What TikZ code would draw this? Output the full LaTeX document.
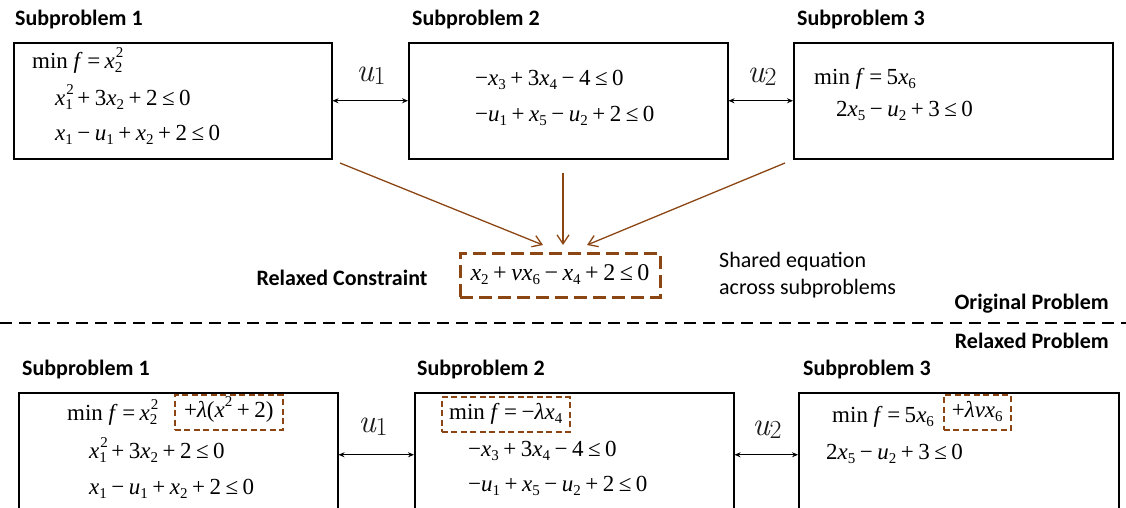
\documentclass[tikz,border=0pt]{standalone}
\usepackage[no-math]{fontspec}
\setmainfont{Carlito}
\newfontfamily\lmfont{Latin Modern Roman}
\newfontfamily\tnr{Liberation Serif}
\usetikzlibrary{arrows.meta,calc}
\definecolor{brn}{RGB}{140,70,20}
\newcommand\sbs[1]{\raisebox{-4pt}{\fontsize{15}{15}\selectfont #1}}
\newcommand\sps[1]{\raisebox{11pt}{\fontsize{15}{15}\selectfont #1}}
\newcommand\xs[2]{\textit{#1}\sbs{#2}}
\newcommand\xss[3]{\textit{#1}\rlap{\kern1pt\sps{#3}}\sbs{#2}}
\newcommand\op[1]{\kern4.5pt#1\kern4.5pt}
\newcommand\ulab[2]{\itshape #1\raisebox{-3pt}{\upshape\fontsize{26}{26}\selectfont #2}}
\begin{document}
\begin{tikzpicture}[x=1pt,y=-1pt,
  lbl/.style={font=\bfseries\fontsize{22}{24}\selectfont, anchor=west, inner sep=0},
  txt/.style={font=\fontsize{22}{27}\selectfont, anchor=north west, inner sep=0, align=left},
  eq/.style={font=\tnr\fontsize{23}{25}\selectfont, anchor=base west, inner sep=0},
  box/.style={draw, line width=1.5pt, inner sep=0, anchor=north west},
  dbox/.style={draw=brn, line width=1.5pt, dash pattern=on 6pt off 3.5pt, anchor=west,
    font=\tnr\fontsize{23}{25}\selectfont, inner xsep=3pt, inner ysep=0pt, minimum height=35pt,
    text height=14pt, text depth=5pt},
  rcbox/.style={draw=brn, line width=3pt, dash pattern=on 13pt off 6pt,
    font=\tnr\fontsize{24}{26}\selectfont, minimum width=200pt, minimum height=44pt, inner sep=0},
  ulbl/.style={font=\lmfont\fontsize{33}{33}\selectfont, text=black!90, inner sep=0},
  dar/.style={{Stealth[length=6pt,width=5pt]}-{Stealth[length=6pt,width=5pt]}, line width=1.2pt},
  bar/.style={-{Straight Barb[length=9pt,width=12pt]}, draw=brn, line width=1.3pt}]
\useasboundingbox (0,0) rectangle (1126,507);
\clip (0,0) rectangle (1126,507);

% ---------- Original problem ----------
\node[lbl] (L1) at (15,20) {Subproblem 1};
\node[lbl] (L2) at (412,20) {Subproblem 2};
\node[lbl] (L3) at (797,20) {Subproblem 3};

\node[box, minimum width=318pt, minimum height=116pt] (T1) at (13,42) {};
\node[box, minimum width=319pt, minimum height=116pt] (T2) at (408,42) {};
\node[box, minimum width=319pt, minimum height=116pt] (T3) at (793,42) {};

\node[eq] (t1a) at (32,68) {min \textit{f}\op{=}\xss{x}{2}{2}};
\node[eq] (t1b) at (55,105) {\xss{x}{1}{2}\op{+}3\xs{x}{2}\op{+}2\op{≤}0};
\node[eq] (t1c) at (55,140) {\xs{x}{1}\op{−}\xs{u}{1}\op{+}\xs{x}{2}\op{+}2\op{≤}0};

\node[eq] (t2a) at (475,85) {−\xs{x}{3}\op{+}3\xs{x}{4}\op{−}4\op{≤}0};
\node[eq] (t2b) at (475,121) {−\xs{u}{1}\op{+}\xs{x}{5}\op{−}\xs{u}{2}\op{+}2\op{≤}0};

\node[eq] (t3a) at (814,84) {min \textit{f}\op{=}5\xs{x}{6}};
\node[eq] (t3b) at (836,116) {2\xs{x}{5}\op{−}\xs{u}{2}\op{+}3\op{≤}0};

\draw[dar] (T1.east) -- (T2.west);
\draw[dar] (T2.east) -- (T3.west);
\node[ulbl] (u1) at (371,76) {\ulab{u}{1}};
\node[ulbl] (u2) at (762,77) {\ulab{u}{2}};

\node[rcbox] (RC) at (560,275) {\xs{x}{2}\op{+}\textit{vx}\sbs{6}\op{−}\xs{x}{4}\op{+}2\op{≤}0};
\coordinate (a1s) at (340,163);
\coordinate (a1e) at (543,245);
\coordinate (a2s) at (563,173);
\coordinate (a2e) at (563,245);
\coordinate (a3s) at (785,163);
\coordinate (a3e) at (587,245);
\draw[bar] (a1s) -- (a1e);
\draw[bar] (a2s) -- (a2e);
\draw[bar] (a3s) -- (a3e);

\node[lbl, anchor=center] (RL) at (342,278) {Relaxed Constraint};
\node[txt] (SE) at (719,252) {Shared equation\\across subproblems};

\node[lbl, anchor=east] (OP) at (1109,304) {Original Problem};
\coordinate (dl0) at (0,323);
\coordinate (dl1) at (1126,323);
\draw[line width=1.5pt, dash pattern=on 12pt off 7pt] (dl0) -- (dl1);
\node[lbl, anchor=east] (RP) at (1109,341) {Relaxed Problem};

% ---------- Relaxed problem ----------
\node[lbl] (M1) at (22,370) {Subproblem 1};
\node[lbl] (M2) at (417,370) {Subproblem 2};
\node[lbl] (M3) at (803,370) {Subproblem 3};

\node[box, minimum width=319pt, minimum height=124pt] (B1) at (18,392) {};
\node[box, minimum width=319pt, minimum height=124pt] (B2) at (414,392) {};
\node[box, minimum width=320pt, minimum height=124pt] (B3) at (798,392) {};

\node[eq] (b1a) at (67,420) {min \textit{f}\op{=}\xss{x}{2}{2}};
\node[dbox, minimum width=108pt] (d1) at (174,412.5) {+\textit{λ}(\textit{x}\sps{2}\op{+}2)};
\node[eq] (b1b) at (89,458) {\xss{x}{1}{2}\op{+}3\xs{x}{2}\op{+}2\op{≤}0};
\node[eq] (b1c) at (89,494) {\xs{x}{1}\op{−}\xs{u}{1}\op{+}\xs{x}{2}\op{+}2\op{≤}0};

\node[dbox, minimum width=128pt] (d2) at (441,414.5) {min \textit{f}\op{=}−\textit{λx}\sbs{4}};
\node[eq] (b2b) at (468,456) {−\xs{x}{3}\op{+}3\xs{x}{4}\op{−}4\op{≤}0};
\node[eq] (b2c) at (468,491) {−\xs{u}{1}\op{+}\xs{x}{5}\op{−}\xs{u}{2}\op{+}2\op{≤}0};

\node[eq] (b3a) at (832,422) {min \textit{f}\op{=}5\xs{x}{6}};
\node[dbox, minimum width=67pt] (d3) at (943,412.5) {+\textit{λvx}\sbs{6}};
\node[eq] (b3b) at (826,459) {2\xs{x}{5}\op{−}\xs{u}{2}\op{+}3\op{≤}0};

\draw[dar] (B1.east) -- (B2.west);
\draw[dar] (B2.east) -- (B3.west);
\node[ulbl] (v1) at (373,427) {\ulab{u}{1}};
\node[ulbl] (v2) at (767,430) {\ulab{u}{2}};
\end{tikzpicture}
\end{document}
